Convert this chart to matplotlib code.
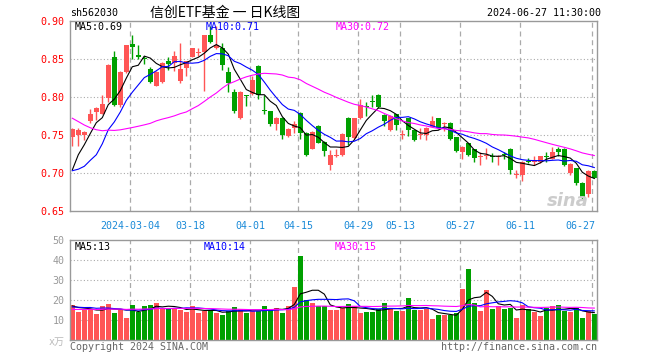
import matplotlib
matplotlib.use("Agg")
import matplotlib.pyplot as plt
import matplotlib.transforms as mtransforms
import numpy as np

# daily OHLC, 2024-02-19 .. 2024-06-27 (88 trading days)
opens = [0.748, 0.750, 0.750, 0.769, 0.780, 0.778, 0.799, 0.852, 0.790, 0.833,
         0.870, 0.855, 0.851, 0.837, 0.815, 0.820, 0.847, 0.845, 0.821, 0.838,
         0.853, 0.858, 0.859, 0.881, 0.864, 0.864, 0.833, 0.807, 0.772, 0.802,
         0.804, 0.841, 0.782, 0.781, 0.765, 0.773, 0.749, 0.759, 0.779, 0.753,
         0.732, 0.762, 0.741, 0.711, 0.722, 0.724, 0.773, 0.746, 0.772, 0.788,
         0.794, 0.803, 0.776, 0.756, 0.777, 0.750, 0.772, 0.756, 0.750, 0.750,
         0.761, 0.772, 0.764, 0.766, 0.747, 0.728, 0.739, 0.731, 0.721, 0.722,
         0.723, 0.721, 0.725, 0.732, 0.697, 0.698, 0.716, 0.714, 0.714, 0.722,
         0.719, 0.732, 0.732, 0.700, 0.706, 0.687, 0.672, 0.703]
highs = [0.759, 0.759, 0.755, 0.784, 0.787, 0.802, 0.843, 0.860, 0.834, 0.869,
         0.882, 0.868, 0.854, 0.840, 0.834, 0.846, 0.852, 0.861, 0.871, 0.847,
         0.865, 0.864, 0.881, 0.894, 0.893, 0.871, 0.840, 0.810, 0.808, 0.802,
         0.827, 0.842, 0.802, 0.782, 0.774, 0.774, 0.759, 0.769, 0.780, 0.754,
         0.755, 0.763, 0.742, 0.730, 0.732, 0.752, 0.774, 0.773, 0.797, 0.794,
         0.802, 0.804, 0.777, 0.776, 0.778, 0.757, 0.773, 0.757, 0.759, 0.760,
         0.775, 0.773, 0.767, 0.767, 0.748, 0.735, 0.740, 0.732, 0.727, 0.733,
         0.726, 0.724, 0.727, 0.733, 0.704, 0.716, 0.720, 0.723, 0.723, 0.727,
         0.734, 0.734, 0.733, 0.713, 0.707, 0.688, 0.704, 0.704]
lows = [0.735, 0.735, 0.743, 0.766, 0.770, 0.777, 0.794, 0.788, 0.787, 0.832,
        0.850, 0.850, 0.843, 0.818, 0.814, 0.819, 0.836, 0.834, 0.818, 0.828,
        0.852, 0.854, 0.808, 0.871, 0.863, 0.836, 0.806, 0.779, 0.771, 0.788,
        0.803, 0.797, 0.777, 0.762, 0.757, 0.745, 0.747, 0.753, 0.745, 0.723,
        0.731, 0.739, 0.723, 0.704, 0.721, 0.723, 0.737, 0.745, 0.771, 0.775,
        0.787, 0.786, 0.762, 0.755, 0.757, 0.745, 0.749, 0.742, 0.745, 0.744,
        0.760, 0.758, 0.755, 0.743, 0.728, 0.718, 0.723, 0.715, 0.710, 0.718,
        0.714, 0.710, 0.718, 0.699, 0.693, 0.690, 0.713, 0.710, 0.713, 0.715,
        0.718, 0.723, 0.709, 0.697, 0.684, 0.665, 0.669, 0.693]
closes = [0.758, 0.756, 0.754, 0.777, 0.786, 0.791, 0.842, 0.790, 0.833, 0.868,
          0.866, 0.852, 0.850, 0.820, 0.833, 0.845, 0.843, 0.854, 0.837, 0.847,
          0.864, 0.859, 0.881, 0.872, 0.869, 0.842, 0.818, 0.781, 0.807, 0.801,
          0.823, 0.803, 0.781, 0.764, 0.773, 0.750, 0.758, 0.764, 0.753, 0.724,
          0.754, 0.740, 0.729, 0.724, 0.724, 0.751, 0.747, 0.772, 0.789, 0.787,
          0.793, 0.787, 0.768, 0.775, 0.763, 0.751, 0.756, 0.743, 0.751, 0.759,
          0.769, 0.759, 0.765, 0.745, 0.729, 0.734, 0.724, 0.720, 0.722, 0.724,
          0.721, 0.723, 0.724, 0.704, 0.698, 0.715, 0.715, 0.717, 0.722, 0.721,
          0.728, 0.727, 0.710, 0.712, 0.687, 0.669, 0.702, 0.694]
# volume, unit: 10k
volume = [17.5, 14.2, 15.0, 15.3, 13.0, 17.2, 18.0, 13.7, 15.0, 11.2,
          17.5, 13.8, 17.0, 17.5, 18.7, 15.8, 15.5, 16.2, 15.0, 13.8,
          17.0, 13.7, 14.5, 15.0, 13.7, 12.5, 14.5, 16.5, 15.5, 13.7,
          14.5, 14.5, 17.0, 15.3, 16.0, 13.7, 17.0, 26.7, 42.0, 20.0,
          18.7, 17.0, 17.0, 15.0, 15.0, 16.2, 18.0, 17.0, 13.7, 14.0,
          14.0, 15.5, 18.5, 16.0, 14.5, 14.5, 21.0, 15.0, 15.0, 15.5,
          10.5, 12.5, 12.7, 12.7, 13.5, 25.5, 35.5, 18.5, 14.5, 25.0,
          15.5, 17.0, 15.5, 16.0, 11.0, 17.5, 15.5, 14.0, 12.0, 16.0,
          17.0, 17.5, 14.5, 14.0, 16.0, 11.0, 14.5, 13.0]

# closes / volumes before the window (only feed the moving averages)
hist_close = [0.888, 0.890, 0.885, 0.864, 0.830, 0.820, 0.800, 0.810, 0.823, 0.820,
              0.801, 0.796, 0.760, 0.735, 0.775, 0.785, 0.785, 0.750, 0.780, 0.735,
              0.736, 0.716, 0.698, 0.713, 0.647, 0.656, 0.688, 0.703, 0.715]
hist_vol = [13.5, 15.0, 14.0, 16.0, 13.0, 14.5, 15.5, 14.0, 16.5, 13.5,
            15.0, 14.0, 15.5, 14.5, 13.5, 16.0, 14.5, 15.0, 14.0, 15.5,
            15.5, 16.5, 15.0, 17.0, 16.0, 18.0, 16.5, 17.0, 16.1]

tick_idx = [10, 20, 30, 38, 48, 55, 65, 75, 87]
tick_labels = ["2024-03-04", "03-18", "04-01", "04-15", "04-29", "05-13", "05-27", "06-11", "06-27"]
price_ticks = [0.65, 0.70, 0.75, 0.80, 0.85, 0.90]
vol_ticks = [10, 20, 30, 40, 50]

RED = "#ff5555"
GREEN = "#00a000"
GRAY = "#999999"
MONO = "DejaVu Sans Mono"
FS = 7.2


def ma(values, hist, n):
    full = np.array(hist + values, dtype=float)
    out = np.convolve(full, np.ones(n) / n, mode="valid")
    return out[-len(values):]


o = np.array(opens); h = np.array(highs); l = np.array(lows); c = np.array(closes)
v = np.array(volume)
x = np.arange(len(c))
up = c >= o
col = np.where(up, RED, GREEN)

W, H = 660, 360
fig = plt.figure(figsize=(W / 100, H / 100), dpi=100)


def px_axes(x0, y0, x1, y1):
    return fig.add_axes([x0 / W, 1 - y1 / H, (x1 - x0) / W, (y1 - y0) / H])


ax = px_axes(70, 21, 597, 211)
axv = px_axes(70, 240, 597, 340)

xl = ((70 - 72.3) / 6, (597 - 72.3) / 6)

# candles
ax.vlines(x, l, h, colors=col, linewidth=1)
body_lo = np.minimum(o, c)
body_h = np.maximum(np.abs(c - o), 0.0013)
ax.bar(x, body_h, 0.8, bottom=body_lo, color=col, linewidth=0)

ma5 = ma(closes, hist_close, 5)
ma10 = ma(closes, hist_close, 10)
ma30 = ma(closes, hist_close, 30)
ax.plot(x, ma5, color="black", lw=0.8)
ax.plot(x, ma10, color="blue", lw=0.8)
ax.plot(x, ma30, color="#ff00ff", lw=0.8)

ax.set_xlim(*xl)
ax.set_ylim(0.65, 0.90)
for yv in price_ticks[1:-1]:
    ax.axhline(yv, color="#aaaaaa", lw=0.8, ls=(0, (1, 2)), zorder=0)
for i in tick_idx:
    ax.axvline(i - 0.35, color="#aaaaaa", lw=0.9, ls=(0, (4, 3)), zorder=0)
ax.set_xticks([])
ax.set_yticks(price_ticks)
ax.set_yticklabels([f"{p:.2f}" for p in price_ticks], color="red",
                   fontfamily=MONO, fontsize=FS)
ax.tick_params(axis="y", length=0, pad=4)

trans = mtransforms.blended_transform_factory(ax.transData, ax.transAxes)
for i, lab in zip(tick_idx, tick_labels):
    ha = "right" if i == tick_idx[-1] else "center"
    xx = i - 0.35 if ha == "center" else i + 0.1
    ax.text(xx, -0.055, lab, transform=trans, ha=ha, va="top",
            color="#1a8ad8", fontfamily=MONO, fontsize=FS)

# volume
axv.bar(x, v, 0.8, color=col, linewidth=0)
vma5 = ma(volume, hist_vol, 5)
vma10 = ma(volume, hist_vol, 10)
vma30 = ma(volume, hist_vol, 30)
axv.plot(x, vma5, color="black", lw=0.8)
axv.plot(x, vma10, color="blue", lw=0.8)
axv.plot(x, vma30, color="#ff00ff", lw=0.8)
axv.set_xlim(*xl)
axv.set_ylim(0, 50)
for yv in vol_ticks[:-1]:
    axv.axhline(yv, color="#aaaaaa", lw=0.8, ls=(0, (1, 2)), zorder=0)
for i in tick_idx:
    axv.axvline(i - 0.35, color="#aaaaaa", lw=0.9, ls=(0, (4, 3)), zorder=0)
axv.set_xticks([])
axv.set_yticks(vol_ticks)
axv.set_yticklabels([str(t) for t in vol_ticks], color=GRAY,
                    fontfamily=MONO, fontsize=FS)
axv.tick_params(axis="y", length=0, pad=4)

for a in (ax, axv):
    for s in a.spines.values():
        s.set_color(GRAY)
        s.set_linewidth(1)


def ftext(px, py, s, **kw):
    kw.setdefault("fontfamily", MONO)
    kw.setdefault("fontsize", FS)
    fig.text(px / W, 1 - py / H, s, va="center", **kw)


ftext(70, 13, "sh562030")
ftext(225, 13, "信创ETF基金 一 日K线图", ha="center",
      fontfamily=["Noto Sans CJK SC", "DejaVu Sans"], fontsize=10)
ftext(601, 13, "2024-06-27 11:30:00", ha="right")

ftext(75, 27, f"MA5:{ma5[-1]:.2f}", color="black")
ftext(206, 27, f"MA10:{ma10[-1]:.2f}", color="blue")
ftext(336, 27, f"MA30:{ma30[-1]:.2f}", color="#ff00ff")

ftext(75, 247, f"MA5:{int(vma5[-1])}", color="black")
ftext(204, 247, f"MA10:{int(vma10[-1])}", color="blue")
ftext(335, 247, f"MA30:{int(vma30[-1])}", color="#ff00ff")

ftext(49, 342, "x万", color="#bbbbbb",
      fontfamily=["DejaVu Sans Mono", "Noto Sans CJK SC"])
ftext(70, 347, "Copyright 2024 SINA.COM", color="#666666")
ftext(597, 347, "http://finance.sina.com.cn", ha="right", color="#666666")

ftext(568, 201, "sina", ha="center", color="#cccccc", fontfamily="DejaVu Sans",
      fontsize=13, fontweight="bold", fontstyle="italic")

fig.savefig("out.png", dpi=100, facecolor="white")
